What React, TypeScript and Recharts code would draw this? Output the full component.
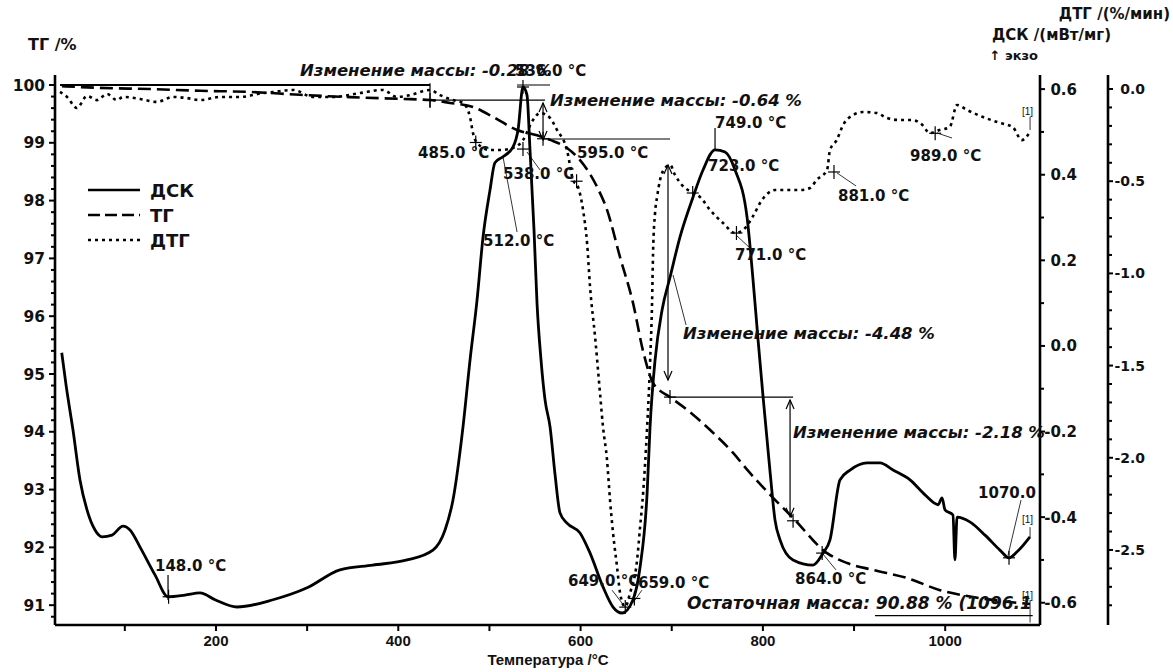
import React from 'react';
import { ComposedChart, Line, XAxis, YAxis, ReferenceLine, ReferenceDot } from 'recharts';

const W = 1173;
const H = 672;
const WIDE = '"DejaVu Sans", Verdana, sans-serif';
const NARROW = '"Liberation Sans", Arial, Helvetica, sans-serif';
const INK = '#111';

// ---- DSC, mW/mg (solid) ----
const DSC_T = [30.8, 35.5, 43.1, 50.8, 58.5, 67.3, 75, 86, 98, 105.7, 116.7, 133.1, 147.4, 166, 182.5, 199, 223, 262.6, 300, 336, 372, 409.6, 438, 451.3, 460, 471, 478.7, 486.4, 493, 500.6, 506, 514.9, 525.9, 531.4, 536.8, 541.2, 544.5, 548.9, 552.2, 556.6, 561, 566.5, 572, 577.4, 585.1, 599.4, 610.4, 624.6, 635.6, 645.5, 657.5, 665.3, 673, 676.2, 681.7, 689.4, 698.2, 709.1, 723.4, 734.3, 747.5, 758.5, 769.5, 782.6, 789.2, 794.7, 800.2, 808, 813.3, 818.8, 833, 855, 866, 873.6, 884.6, 895.6, 914.3, 928.5, 942.8, 961.4, 977.9, 992.2, 996.5, 999.8, 1008.5, 1010.7, 1013, 1027, 1043.7, 1060, 1070, 1078.8, 1093];
const DSC_V = [-0.016, -0.091, -0.196, -0.313, -0.383, -0.43, -0.446, -0.442, -0.421, -0.43, -0.47, -0.535, -0.586, -0.582, -0.577, -0.593, -0.61, -0.593, -0.565, -0.523, -0.512, -0.5, -0.477, -0.43, -0.36, -0.189, -0.033, 0.107, 0.255, 0.364, 0.428, 0.442, 0.465, 0.505, 0.605, 0.586, 0.458, 0.271, 0.1, -0.033, -0.126, -0.189, -0.301, -0.39, -0.414, -0.437, -0.484, -0.563, -0.61, -0.624, -0.593, -0.516, -0.343, -0.189, -0.033, 0.084, 0.161, 0.255, 0.348, 0.411, 0.458, 0.453, 0.411, 0.301, 0.154, 0.014, -0.119, -0.297, -0.407, -0.453, -0.5, -0.512, -0.484, -0.453, -0.313, -0.29, -0.273, -0.273, -0.29, -0.313, -0.348, -0.371, -0.355, -0.383, -0.395, -0.5, -0.4, -0.411, -0.442, -0.477, -0.495, -0.481, -0.446];

// ---- TG, % (dashed) ----
const TG_T = [31, 72.8, 127.6, 182.5, 237.3, 292.2, 347, 401.9, 434.8, 456.8, 482, 503.9, 530.3, 552.2, 566.5, 585.1, 599.4, 618, 629, 643.3, 657.5, 668.8, 679.7, 698.1, 717, 742.2, 767.6, 782.9, 808, 833.1, 870.4, 892.3, 920.8, 958.1, 994.3, 1030.5, 1067.7, 1093];
const TG_V = [99.98, 99.95, 99.93, 99.9, 99.88, 99.83, 99.79, 99.76, 99.74, 99.69, 99.62, 99.45, 99.22, 99.13, 99.05, 98.91, 98.7, 98.24, 97.84, 97.02, 96.23, 95.38, 94.84, 94.6, 94.38, 94.03, 93.63, 93.34, 92.91, 92.51, 91.9, 91.73, 91.61, 91.47, 91.26, 91.14, 91.06, 91.02];

// ---- DTG, %/min (dotted) ----
const DTG_T = [28.9, 36.6, 47.5, 58.5, 69.5, 80.4, 91.4, 98, 116.7, 135.3, 152.9, 168.2, 182.5, 204.4, 226.4, 251.6, 262.6, 284.5, 306.5, 328.4, 358, 383.2, 398.6, 413, 434.8, 445.8, 460, 471, 478.7, 482, 486.4, 500.6, 511.6, 525.9, 536.8, 547.8, 555.5, 566.5, 574.1, 585.1, 591.7, 597.2, 602.7, 607.1, 610.4, 615.9, 621.3, 624.6, 629, 632.3, 635.6, 640, 643.3, 648.8, 654.3, 662, 665.3, 668.6, 673, 676.2, 678.4, 679.5, 681.7, 683.9, 687.2, 692.7, 698.2, 703.6, 711.3, 723.4, 731, 742, 756.3, 769.5, 778.2, 788, 799, 813.3, 829.7, 840.7, 851.7, 859, 870.4, 873.6, 881, 888, 899, 910, 925, 936, 950, 964, 975, 983, 994, 1005, 1013, 1024, 1041.5, 1060, 1074, 1084, 1093];
const DTG_V = [-0.016, -0.043, -0.103, -0.038, -0.06, -0.027, -0.06, -0.043, -0.054, -0.07, -0.043, -0.049, -0.06, -0.043, -0.043, -0.022, -0.016, -0.005, -0.043, -0.043, -0.022, -0.005, -0.043, -0.033, -0.005, -0.033, -0.06, -0.076, -0.152, -0.239, -0.293, -0.331, -0.331, -0.32, -0.277, -0.168, -0.13, -0.157, -0.222, -0.331, -0.493, -0.531, -0.656, -0.835, -1.074, -1.345, -1.649, -1.833, -2.012, -2.229, -2.408, -2.592, -2.733, -2.809, -2.733, -2.554, -2.375, -2.191, -1.833, -1.486, -1.161, -0.889, -0.672, -0.586, -0.493, -0.428, -0.412, -0.466, -0.521, -0.564, -0.586, -0.656, -0.727, -0.781, -0.765, -0.7, -0.602, -0.548, -0.548, -0.548, -0.537, -0.493, -0.439, -0.331, -0.277, -0.195, -0.141, -0.125, -0.13, -0.157, -0.168, -0.168, -0.195, -0.239, -0.222, -0.206, -0.087, -0.114, -0.152, -0.184, -0.206, -0.277, -0.233];

// ---- axes ----
const TEMP_TICKS = [100, 200, 300, 400, 500, 600, 700, 800, 900, 1000];
const TEMP_LABELS = [200, 400, 600, 800, 1000];
const TG_LABELS = [91, 92, 93, 94, 95, 96, 97, 98, 99, 100];
const DSC_LABELS = [-0.6, -0.4, -0.2, 0, 0.2, 0.4, 0.6];
const DTG_LABELS = [0, -0.5, -1, -1.5, -2, -2.5];

const steps = (from: number, to: number, step: number) => {
  const out: number[] = [];
  const n = Math.round((to - from) / step);
  for (let i = 0; i <= n; i++) out.push(Math.round((from + i * step) * 1000) / 1000);
  return out;
};
const TG_TICKS = steps(90.8, 100, 0.2);
const DSC_TICKS = steps(-0.6, 0.6, 0.1);
const DTG_TICKS = steps(-2.8, 0, 0.1);

const dscData = DSC_T.map((t, i) => ({ t, v: DSC_V[i] }));
const tgData = TG_T.map((t, i) => ({ t, v: TG_V[i] }));
const dtgData = DTG_T.map((t, i) => ({ t, v: DTG_V[i] }));

// ---- annotations (data coordinates, TG axis) ----
const LABELS: { t: number; y: number; text: string; italic?: boolean; small?: boolean; size?: number }[] = [
  { t: 292.2, y: 100.156, text: 'Изменение массы: -0.28 %', italic: true },
  { t: 528.1, y: 100.156, text: '536.0 °C' },
  { t: 566.5, y: 99.637, text: 'Изменение массы: -0.64 %', italic: true },
  { t: 747.5, y: 99.256, text: '749.0 °C' },
  { t: 421.7, y: 98.737, text: '485.0 °C' },
  { t: 596.1, y: 98.737, text: '595.0 °C' },
  { t: 514.9, y: 98.374, text: '538.0 °C' },
  { t: 739.8, y: 98.512, text: '723.0 °C' },
  { t: 882.4, y: 97.993, text: '881.0 °C' },
  { t: 961.4, y: 98.685, text: '989.0 °C' },
  { t: 493, y: 97.215, text: '512.0 °C' },
  { t: 769.4, y: 96.97, text: '771.0 °C' },
  { t: 712.4, y: 95.606, text: 'Изменение массы: -4.48 %', italic: true },
  { t: 833.1, y: 93.893, text: 'Изменение массы: -2.18 %', italic: true },
  { t: 1036, y: 92.855, text: '1070.0' },
  { t: 133.1, y: 91.592, text: '148.0 °C' },
  { t: 586.2, y: 91.333, text: '649.0 °C' },
  { t: 663, y: 91.3, text: '659.0 °C' },
  { t: 835.3, y: 91.367, text: '864.0 °C' },
  { t: 716.8, y: 90.935, text: 'Остаточная масса: 90.88 % (1096.1', italic: true, size: 17 },
  { t: 1084.3, y: 99.48, text: '[1]', small: true },
  { t: 1084.3, y: 92.42, text: '[1]', small: true },
  { t: 1084.3, y: 91.1, text: '[1]', small: true },
];

const SEGMENTS: { t1: number; y1: number; t2: number; y2: number; arrow?: boolean; w?: number }[] = [
  { t1: 28.9, y1: 100.0, t2: 434.8, y2: 100.0, w: 1.8 },
  { t1: 434.8, y1: 100.03, t2: 434.8, y2: 99.6 },
  { t1: 434.8, y1: 99.74, t2: 561, y2: 99.74 },
  { t1: 558.8, y1: 99.69, t2: 558.8, y2: 99.05, arrow: true },
  { t1: 558.8, y1: 99.066, t2: 698.1, y2: 99.066 },
  { t1: 695.9, y1: 98.616, t2: 695.9, y2: 94.897, arrow: true },
  { t1: 698.1, y1: 94.6, t2: 833.1, y2: 94.6 },
  { t1: 829.8, y1: 94.55, t2: 829.8, y2: 92.53, arrow: true },
  { t1: 530.3, y1: 100.0, t2: 566.5, y2: 100.0 },
  { t1: 923, y1: 90.82, t2: 1096, y2: 90.82 },
  { t1: 514.9, y1: 98.754, t2: 530.3, y2: 97.457, w: 0.8 },
  { t1: 541.2, y1: 98.841, t2: 555.5, y2: 98.53, w: 0.8 },
  { t1: 771.6, y1: 97.388, t2: 788.1, y2: 97.146, w: 0.8 },
  { t1: 881.3, y1: 98.478, t2: 902.2, y2: 98.253, w: 0.8 },
  { t1: 991, y1: 99.17, t2: 1007.5, y2: 99.083, w: 0.8 },
  { t1: 1069, y1: 91.869, t2: 1083.2, y2: 92.82, w: 0.8 },
  { t1: 864.9, y1: 91.904, t2: 880.2, y2: 91.61, w: 0.8 },
  { t1: 657.5, y1: 91.04, t2: 667.3, y2: 91.26, w: 0.8 },
  { t1: 648.7, y1: 90.97, t2: 634.5, y2: 91.26, w: 0.8 },
  { t1: 701.4, y1: 96.713, t2: 715.7, y2: 95.848, w: 0.8 },
  { t1: 747.5, y1: 99.256, t2: 747.5, y2: 98.876 },
  { t1: 147.4, y1: 91.523, t2: 147.4, y2: 91.09 },
  { t1: 1093.1, y1: 99.45, t2: 1093.1, y2: 99.22, w: 0.8 },
  { t1: 1093.1, y1: 92.35, t2: 1093.1, y2: 92.18, w: 0.8 },
  { t1: 1093.1, y1: 91.09, t2: 1093.1, y2: 90.7, w: 0.8 },
];

const CROSSES: { axis: 'tg' | 'dsc' | 'dtg'; t: number; v: number }[] = [
  { axis: 'tg', t: 434.8, v: 99.74 },
  { axis: 'tg', t: 558.8, v: 99.07 },
  { axis: 'tg', t: 698.1, v: 94.6 },
  { axis: 'tg', t: 833.1, v: 92.46 },
  { axis: 'dsc', t: 536.8, v: 0.605 },
  { axis: 'dsc', t: 536.8, v: 0.46 },
  { axis: 'dsc', t: 148, v: -0.586 },
  { axis: 'dsc', t: 865, v: -0.484 },
  { axis: 'dsc', t: 1070, v: -0.495 },
  { axis: 'dsc', t: 659, v: -0.59 },
  { axis: 'dtg', t: 485, v: -0.29 },
  { axis: 'dtg', t: 595.6, v: -0.5 },
  { axis: 'dtg', t: 649, v: -2.81 },
  { axis: 'dtg', t: 723, v: -0.564 },
  { axis: 'dtg', t: 771, v: -0.781 },
  { axis: 'dtg', t: 878, v: -0.45 },
  { axis: 'dtg', t: 989, v: -0.24 },
];

const isIn = (v: number, list: number[]) => list.some((m) => Math.abs(m - v) < 1e-6);

const TgTick = (p: any) => {
  const { x, y, payload } = p;
  const v = payload.value as number;
  const major = isIn(v, TG_LABELS);
  return (
    <g>
      <line x1={x - (major ? 6 : 4)} y1={y} x2={x} y2={y} stroke="#000" strokeWidth={2} />
      {major && (
        <text x={x - 10} y={y} dy="0.36em" textAnchor="end" fontFamily={WIDE} fontWeight="bold" fontSize={15.5} fill={INK}>
          {String(v)}
        </text>
      )}
    </g>
  );
};

const rightTick = (labels: number[], end: number, size: number) => (p: any) => {
  const { x, y, payload } = p;
  const v = payload.value as number;
  const major = isIn(v, labels);
  return (
    <g>
      <line x1={x} y1={y} x2={x + (major ? 5 : 4)} y2={y} stroke="#000" strokeWidth={2} />
      {major && (
        <text x={x + end} y={y} dy="0.36em" textAnchor="end" fontFamily={WIDE} fontWeight="bold" fontSize={size} fill={INK}>
          {v.toFixed(1)}
        </text>
      )}
    </g>
  );
};

const TempTick = (p: any) => {
  const { x, y, payload } = p;
  const v = payload.value as number;
  const major = isIn(v, TEMP_LABELS);
  return (
    <g>
      <line x1={x} y1={y} x2={x} y2={y + 6} stroke="#000" strokeWidth={2} />
      {major && (
        <text x={x} y={y + 21} textAnchor="middle" fontFamily={NARROW} fontWeight="bold" fontSize={15} fill={INK}>
          {String(v)}
        </text>
      )}
    </g>
  );
};

const Cross = (p: any) => {
  const { cx, cy } = p;
  return (
    <g stroke="#000" strokeWidth={1.2}>
      <line x1={cx - 6} y1={cy} x2={cx + 6} y2={cy} />
      <line x1={cx} y1={cy - 7} x2={cx} y2={cy + 7} />
    </g>
  );
};

const textShape = (text: string, italic?: boolean, small?: boolean, size?: number) => (p: any) => (
  <text
    x={p.cx}
    y={p.cy}
    fontFamily={small ? NARROW : WIDE}
    fontWeight={small ? 'normal' : 'bold'}
    fontStyle={italic ? 'italic' : 'normal'}
    fontSize={small ? 10 : size ?? (italic ? 16.5 : 15)}
    fill={INK}
  >
    {text}
  </text>
);

const segShape = (arrow?: boolean, w?: number) => (p: any) => {
  const { x1, y1, x2, y2 } = p;
  const sw = w ?? 1.2;
  const dir = y2 > y1 ? 1 : -1;
  return (
    <g stroke="#000" strokeWidth={sw} fill="none">
      <line x1={x1} y1={y1} x2={x2} y2={y2} />
      {arrow && (
        <>
          <polyline points={`${x1 - 4},${y1 + dir * 9} ${x1},${y1} ${x1 + 4},${y1 + dir * 9}`} />
          <polyline points={`${x2 - 4},${y2 - dir * 9} ${x2},${y2} ${x2 + 4},${y2 - dir * 9}`} />
        </>
      )}
    </g>
  );
};

const Overlay = () => (
  <svg width={W} height={H} style={{ position: 'absolute', left: 0, top: 0, pointerEvents: 'none' }}>
    <g fontFamily={WIDE} fontWeight="bold" fill={INK}>
      <text x={28} y={50} fontSize={16}>ТГ /%</text>
      <text x={1170} y={19} fontSize={15} textAnchor="end">ДТГ /(%/мин)</text>
      <text x={1111} y={40} fontSize={15} textAnchor="end">ДСК /(мВт/мг)</text>
      <text x={1038} y={60} fontSize={13} textAnchor="end">↑ экзо</text>
      <line x1={88} y1={190} x2={140} y2={190} stroke="#000" strokeWidth={2.6} />
      <line x1={88} y1={215} x2={140} y2={215} stroke="#000" strokeWidth={2.6} strokeDasharray="12 5" />
      <line x1={88} y1={240} x2={140} y2={240} stroke="#000" strokeWidth={2.6} strokeDasharray="3 4" />
      <text x={150} y={197} fontSize={18}>ДСК</text>
      <text x={150} y={222} fontSize={18}>ТГ</text>
      <text x={150} y={247} fontSize={18}>ДТГ</text>
    </g>
    <text x={548} y={665} fontFamily={NARROW} fontWeight="bold" fontSize={15} textAnchor="middle" fill={INK}>
      Температура /°C
    </text>
  </svg>
);

export default function App() {
  return (
    <div style={{ position: 'absolute', left: 0, top: 0, width: W, height: H, background: '#fff', fontFamily: NARROW }}>
      <ComposedChart width={W} height={H} margin={{ top: 75, right: 0, bottom: 0, left: 0 }}>
        <XAxis
          dataKey="t"
          type="number"
          domain={[23.4, 1104]}
          allowDataOverflow
          ticks={TEMP_TICKS}
          interval={0}
          tickSize={0}
          tickMargin={0}
          tickLine={false}
          tick={TempTick}
          axisLine={{ stroke: '#000', strokeWidth: 2.6 }}
          height={47}
        />
        <YAxis
          yAxisId="tg"
          orientation="left"
          type="number"
          domain={[90.657, 100.173]}
          allowDataOverflow
          ticks={TG_TICKS}
          interval={0}
          tickSize={0}
          tickMargin={0}
          tickLine={false}
          tick={TgTick}
          axisLine={{ stroke: '#000', strokeWidth: 2.6 }}
          width={55}
        />
        <YAxis
          yAxisId="dsc"
          orientation="right"
          type="number"
          domain={[-0.652, 0.633]}
          allowDataOverflow
          ticks={DSC_TICKS}
          interval={0}
          tickSize={0}
          tickMargin={0}
          tickLine={false}
          tick={rightTick(DSC_LABELS, 37, 15)}
          axisLine={{ stroke: '#000', strokeWidth: 2.6 }}
          width={68}
        />
        <YAxis
          yAxisId="dtg"
          orientation="right"
          type="number"
          domain={[-2.907, 0.076]}
          allowDataOverflow
          ticks={DTG_TICKS}
          interval={0}
          tickSize={0}
          tickMargin={0}
          tickLine={false}
          tick={rightTick(DTG_LABELS, 37, 14)}
          axisLine={{ stroke: '#000', strokeWidth: 2.6 }}
          width={65}
        />

        {SEGMENTS.map((s, i) => (
          <ReferenceLine
            key={'s' + i}
            yAxisId="tg"
            segment={[{ x: s.t1, y: s.y1 }, { x: s.t2, y: s.y2 }]}
            ifOverflow="visible"
            shape={segShape(s.arrow, s.w)}
          />
        ))}

        <Line data={dtgData} dataKey="v" yAxisId="dtg" type="monotone" stroke="#000" strokeWidth={2.6} strokeDasharray="3 4" dot={false} activeDot={false} isAnimationActive={false} />
        <Line data={tgData} dataKey="v" yAxisId="tg" type="monotone" stroke="#000" strokeWidth={2.6} strokeDasharray="13 6" dot={false} activeDot={false} isAnimationActive={false} />
        <Line data={dscData} dataKey="v" yAxisId="dsc" type="monotone" stroke="#000" strokeWidth={2.8} dot={false} activeDot={false} isAnimationActive={false} />

        {CROSSES.map((c, i) => (
          <ReferenceDot key={'c' + i} yAxisId={c.axis} x={c.t} y={c.v} r={6} ifOverflow="visible" shape={Cross} />
        ))}
        {LABELS.map((l, i) => (
          <ReferenceDot key={'l' + i} yAxisId="tg" x={l.t} y={l.y} r={1} ifOverflow="visible" shape={textShape(l.text, l.italic, l.small, l.size)} />
        ))}
      </ComposedChart>
      <Overlay />
    </div>
  );
}
